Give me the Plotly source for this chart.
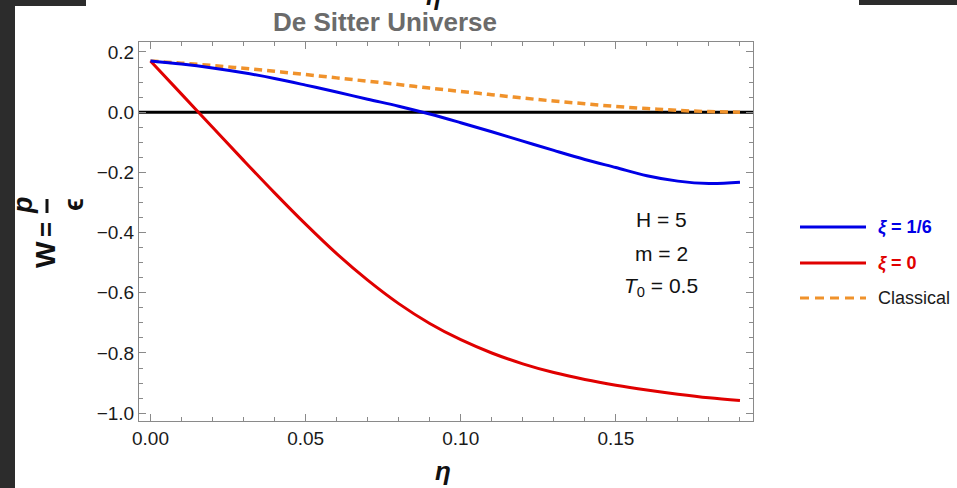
import plotly.graph_objects as go

# ---------------- data ----------------
eta = [0.00, 0.01, 0.02, 0.03, 0.04, 0.05, 0.06, 0.07, 0.08, 0.09,
       0.10, 0.11, 0.12, 0.13, 0.14, 0.15, 0.16, 0.17, 0.18, 0.19]

w_xi_sixth = [0.170, 0.160, 0.147, 0.131, 0.112, 0.090, 0.067, 0.043, 0.020, -0.006,
              -0.035, -0.065, -0.096, -0.127, -0.157, -0.184, -0.211, -0.229, -0.237, -0.233]

w_xi_zero = [0.170, 0.060, -0.050, -0.160, -0.268, -0.372, -0.470, -0.558, -0.636, -0.702,
             -0.756, -0.800, -0.836, -0.865, -0.888, -0.907, -0.923, -0.937, -0.949, -0.958]

w_classical = [0.170, 0.163, 0.155, 0.146, 0.136, 0.125, 0.114, 0.103, 0.092, 0.080,
               0.069, 0.058, 0.047, 0.037, 0.028, 0.019, 0.012, 0.006, 0.002, 0.000]

series_names = ["<i>ξ</i> = 1/6", "<i>ξ</i> = 0", "Classical"]
x_ticks = [0.00, 0.05, 0.10, 0.15]
x_tick_text = ["0.00", "0.05", "0.10", "0.15"]
y_ticks = [0.2, 0.0, -0.2, -0.4, -0.6, -0.8, -1.0]
y_tick_text = ["0.2", "0.0", "−0.2", "−0.4", "−0.6", "−0.8", "−1.0"]
params = ["H = 5", "m = 2", "<i>T</i><sub>0</sub> = 0.5"]

# ---------------- styling ----------------
W, H = 957, 488
ML, MR, MT, MB = 139, 204, 42, 67
PW, PH = W - ML - MR, H - MT - MB
FONT = "Liberation Sans, Arial, sans-serif"
BLUE = "#0000E6"
RED = "#E00000"
ORANGE = "#F0922B"
FRAME = "#8a8a8a"
INK = "#111111"


def px(x):
    return (x - ML) / PW


def py(y):
    return (H - MB - y) / PH


fig = go.Figure()

# zero line
fig.add_trace(go.Scatter(x=[eta[0] - 0.01, eta[-1] + 0.01], y=[0, 0], mode="lines",
                         line=dict(color="black", width=3), showlegend=False,
                         hoverinfo="skip"))

fig.add_trace(go.Scatter(x=eta, y=w_classical, mode="lines", name=series_names[2],
                         line=dict(color=ORANGE, width=3.5, dash="8px,5px", shape="spline"),
                         showlegend=False))
fig.add_trace(go.Scatter(x=eta, y=w_xi_zero, mode="lines", name=series_names[1],
                         line=dict(color=RED, width=3, shape="spline"), showlegend=False))
fig.add_trace(go.Scatter(x=eta, y=w_xi_sixth, mode="lines", name=series_names[0],
                         line=dict(color=BLUE, width=3, shape="spline"), showlegend=False))

axis_common = dict(
    showgrid=False, zeroline=False, showline=True, linecolor=FRAME, linewidth=1,
    mirror="ticks", ticks="inside", ticklen=7, tickcolor=FRAME, tickwidth=1,
    tickfont=dict(family=FONT, size=19, color="#1a1a1a"),
)

fig.update_xaxes(range=[-0.0037, 0.1942], tickvals=x_ticks, ticktext=x_tick_text,
                 minor=dict(dtick=0.01, ticks="inside", ticklen=4, tickcolor=FRAME),
                 **axis_common)
fig.update_yaxes(range=[-1.026, 0.2332], tickvals=y_ticks, ticktext=y_tick_text,
                 minor=dict(dtick=0.05, tick0=0, ticks="inside", ticklen=4, tickcolor=FRAME),
                 **axis_common)

shapes = [
    # dark page borders
    dict(type="rect", xref="paper", yref="paper", x0=px(0), x1=px(15), y0=py(H), y1=py(0),
         fillcolor="#2c2c2c", line=dict(width=0), layer="above"),
    dict(type="rect", xref="paper", yref="paper", x0=px(0), x1=px(86), y0=py(6), y1=py(0),
         fillcolor="#2c2c2c", line=dict(width=0), layer="above"),
    dict(type="rect", xref="paper", yref="paper", x0=px(859), x1=px(W), y0=py(5), y1=py(0),
         fillcolor="#2c2c2c", line=dict(width=0), layer="above"),
]

annotations = []

# manual legend
legend_rows = [(227, BLUE, "solid", "<b>" + series_names[0] + "</b>", BLUE),
               (263, RED, "solid", "<b>" + series_names[1] + "</b>", RED),
               (298, ORANGE, "9px,6px", series_names[2], "#1a1a1a")]
for yy, col, dsh, txt, tcol in legend_rows:
    shapes.append(dict(type="line", xref="paper", yref="paper", x0=px(800), x1=px(866),
                       y0=py(yy), y1=py(yy),
                       line=dict(color=col, width=3, dash=dsh)))
    annotations.append(dict(xref="paper", yref="paper", x=px(876), y=py(yy), text=txt,
                            showarrow=False, xanchor="left", yanchor="middle",
                            font=dict(family=FONT, size=18, color=tcol)))

# parameter block
for yy, txt in zip([219, 253, 287], params):
    annotations.append(dict(xref="paper", yref="paper", x=px(661), y=py(yy), text=txt,
                            showarrow=False, xanchor="center", yanchor="middle",
                            font=dict(family=FONT, size=21, color=INK)))

# title
annotations.append(dict(xref="paper", yref="paper", x=px(385), y=py(22),
                        text="<b>De Sitter Universe</b>", showarrow=False,
                        xanchor="center", yanchor="middle",
                        font=dict(family=FONT, size=26, color="#6b6b6b")))
# cropped eta above title (cut off in the reference too)
annotations.append(dict(xref="paper", yref="paper", x=px(433), y=py(-4),
                        text="<b><i>η</i></b>", showarrow=False,
                        xanchor="center", yanchor="middle",
                        font=dict(family=FONT, size=25, color=INK)))

# x-axis label
annotations.append(dict(xref="paper", yref="paper", x=px(443), y=py(471),
                        text="<b><i>η</i></b>", showarrow=False,
                        xanchor="center", yanchor="middle",
                        font=dict(family=FONT, size=26, color=INK)))

# y-axis label: W = p / ε (rotated fraction)
annotations.append(dict(xref="paper", yref="paper", x=px(45), y=py(254),
                        text="<b>W</b>", textangle=-90, showarrow=False,
                        xanchor="center", yanchor="middle",
                        font=dict(family=FONT, size=28, color=INK)))
annotations.append(dict(xref="paper", yref="paper", x=px(46), y=py(229),
                        text="<b>=</b>", textangle=-90, showarrow=False,
                        xanchor="center", yanchor="middle",
                        font=dict(family=FONT, size=26, color=INK)))
annotations.append(dict(xref="paper", yref="paper", x=px(23), y=py(205),
                        text="<b><i>p</i></b>", textangle=-90, showarrow=False,
                        xanchor="center", yanchor="middle",
                        font=dict(family=FONT, size=27, color=INK)))
annotations.append(dict(xref="paper", yref="paper", x=px(74), y=py(205),
                        text="<b>ϵ</b>", textangle=-90, showarrow=False,
                        xanchor="center", yanchor="middle",
                        font=dict(family=FONT, size=27, color=INK)))
shapes.append(dict(type="line", xref="paper", yref="paper", x0=px(47), x1=px(47),
                   y0=py(199), y1=py(213), line=dict(color=INK, width=3)))

fig.update_layout(
    width=W, height=H, autosize=False,
    margin=dict(l=ML, r=MR, t=MT, b=MB),
    paper_bgcolor="white", plot_bgcolor="white",
    showlegend=False,
    shapes=shapes, annotations=annotations,
    font=dict(family=FONT),
)

fig.write_html("out.html")
